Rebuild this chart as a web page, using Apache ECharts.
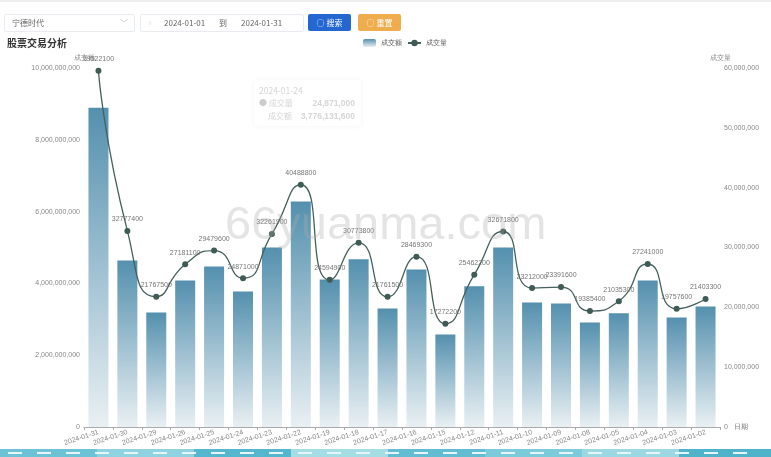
<!DOCTYPE html>
<html>
<head>
<meta charset="utf-8">
<style>
html, body { margin: 0; padding: 0; background: #fff; overflow: hidden; font-family: "Noto Sans CJK SC", "Noto Sans", sans-serif; }
#wrap { position: relative; width: 771px; height: 457px; }
#main { position: absolute; left: 0; top: 0; width: 771px; height: 457px; }
.topline { position: absolute; left: 0; top: 0; width: 771px; height: 2px; background: #eee; }
.box { position: absolute; top: 14px; height: 16px; border: 1px solid #e8ebf0; border-radius: 2px; font-size: 8px; line-height: 16px; color: #666; }
.btn { position: absolute; top: 14px; height: 17px; border-radius: 2px; color: #fff; font-size: 8px; line-height: 17px; text-align: center; }
.title { position: absolute; left: 7px; top: 36px; font-size: 10px; line-height: 14px; font-weight: bold; color: #333; }
#tip { position: absolute; left: 254px; top: 80px; width: 107px; height: 46px; background: #fff; border-radius: 3px; box-shadow: 0 0 5px rgba(0,0,0,.05); font-size: 8px; color: #d6d6d6; }
#tip div { position: absolute; white-space: nowrap; line-height: 12px; }
#tip .num { right: 6px; font-weight: bold; font-size: 8.5px; font-family: "Liberation Sans", sans-serif; }
</style>
</head>
<body>
<div id="wrap">
  <div id="main"></div>
  <div class="topline"></div>
  <div class="box" style="left:4px;width:129px;"><span style="margin-left:7px">宁德时代</span><span style="position:absolute;right:6px;color:#bbb">﹀</span></div>
  <div class="box" style="left:140px;width:162px;">
    <span style="position:absolute;left:5px;color:#ccc">▫</span>
    <span style="position:absolute;left:23px">2024-01-01</span>
    <span style="position:absolute;left:78px">到</span>
    <span style="position:absolute;left:100px">2024-01-31</span>
  </div>
  <div class="btn" style="left:308px;width:43px;background:#2467d0;">○ 搜索</div>
  <div class="btn" style="left:358px;width:43px;background:#f0ad4e;">○ 重置</div>
  <div class="title">股票交易分析</div>
  <div id="tip"></div>
</div>
<script src="https://cdn.jsdelivr.net/npm/echarts@6/dist/echarts.min.js"></script>
<script>
var dates = ['2024-01-31','2024-01-30','2024-01-29','2024-01-26','2024-01-25','2024-01-24','2024-01-23','2024-01-22','2024-01-19','2024-01-18','2024-01-17','2024-01-16','2024-01-15','2024-01-12','2024-01-11','2024-01-10','2024-01-09','2024-01-08','2024-01-05','2024-01-04','2024-01-03','2024-01-02'];
// 成交额
var amount = [8890000000,4640000000,3190000000,4080000000,4470000000,3776131600,5000000000,6280000000,4110000000,4670000000,3300000000,4390000000,2580000000,3920000000,5000000000,3470000000,3440000000,2910000000,3170000000,4080000000,3050000000,3360000000];
// 成交量
var volume = [59522100,32777400,21767500,27181100,29479600,24871000,32261900,40488800,24594900,30773800,21761500,28469300,17272200,25462200,32671800,23212000,23391600,19385400,21035300,27241000,19757600,21403300];
var leftTicks = 10000000000;
var rightTicks = 60000000;

// 画面上残留的提示框
var tipIdx = dates.indexOf('2024-01-24');
document.getElementById('tip').innerHTML =
    '<div style="left:5px;top:4px;font-size:8.5px">' + dates[tipIdx] + '</div>' +
    '<div style="left:5px;top:17px"><span style="color:#ccc">●</span> 成交量</div>' +
    '<div class="num" style="top:17px">' + volume[tipIdx].toLocaleString('en-US') + '</div>' +
    '<div style="left:14px;top:30px">成交额</div>' +
    '<div class="num" style="top:30px">' + amount[tipIdx].toLocaleString('en-US') + '</div>';

var chart = echarts.init(document.getElementById('main'), null, { renderer: 'canvas' });

var barColor = new echarts.graphic.LinearGradient(0, 0, 0, 1, [
    { offset: 0, color: '#5490ae' },
    { offset: 1, color: '#e9f0f3' }
]);

// 底部花纹条
var stripe = [];
var stripeCols = ['#6cc3d6','#8ed3df','#55b7cd','#a5dde5','#62bdd2','#7ccbdb','#9bd8e2','#4fb3ca'];
for (var i = 0; i < stripeCols.length; i++) {
    stripe.push({
        type: 'rect',
        left: i * 97,
        top: 449,
        shape: { width: 97, height: 8 },
        style: { fill: stripeCols[i] },
        silent: true
    });
}
for (var j = 0; j < 26; j++) {
    stripe.push({
        type: 'rect',
        left: 8 + j * 29,
        top: 452,
        shape: { width: 14, height: 2 },
        style: { fill: '#e6f6f8' },
        silent: true
    });
}

chart.setOption({
    animation: false,
    grid: { left: 84, right: 51, top: 68, bottom: 30 },
    legend: {
        top: 34,
        left: 358,
        itemWidth: 13,
        itemHeight: 8,
        itemGap: 5,
        textStyle: { fontSize: 7, color: '#555' },
        data: ['成交额', '成交量']
    },
    graphic: stripe.concat([{
        type: 'text',
        left: 225,
        top: 203,
        z: 100,
        silent: true,
        style: {
            text: '66yuanma.com',
            font: '47px "Liberation Sans", sans-serif',
            fill: 'rgba(170,170,170,0.32)'
        }
    }]),
    xAxis: {
        type: 'category',
        data: dates,
        name: '日期',
        nameGap: 7,
        nameTextStyle: { fontSize: 7, color: '#777' },
        axisLine: { lineStyle: { color: '#aaa' } },
        axisTick: { show: true, length: 3, lineStyle: { color: '#aaa' } },
        axisLabel: { rotate: 18, fontSize: 7, color: '#888', interval: 0, margin: 5 }
    },
    yAxis: [{
        type: 'value',
        name: '成交额',
        min: 0,
        max: leftTicks,
        interval: 2000000000,
        nameGap: 6,
        nameTextStyle: { fontSize: 7, color: '#888' },
        splitLine: { show: false },
        axisLine: { show: false },
        axisTick: { show: false },
        axisLabel: { fontSize: 7, color: '#888', margin: 4, formatter: function (v) { return v.toLocaleString('en-US'); } }
    }, {
        type: 'value',
        name: '成交量',
        min: 0,
        max: rightTicks,
        interval: 10000000,
        nameGap: 6,
        nameTextStyle: { fontSize: 7, color: '#888' },
        splitLine: { show: false },
        axisLine: { show: false },
        axisTick: { show: false },
        axisLabel: { fontSize: 7, color: '#888', margin: 4, formatter: function (v) { return v.toLocaleString('en-US'); } }
    }],
    series: [{
        name: '成交额',
        type: 'bar',
        data: amount,
        barWidth: 20,
        itemStyle: { color: barColor }
    }, {
        name: '成交量',
        type: 'line',
        yAxisIndex: 1,
        data: volume,
        smooth: 0.6,
        symbol: 'circle',
        symbolSize: 6,
        lineStyle: { color: '#45605c', width: 1.3 },
        itemStyle: { color: '#3f5b56' },
        label: { show: true, position: 'top', distance: 5, fontSize: 7, color: '#777' }
    }]
});
</script>
</body>
</html>
